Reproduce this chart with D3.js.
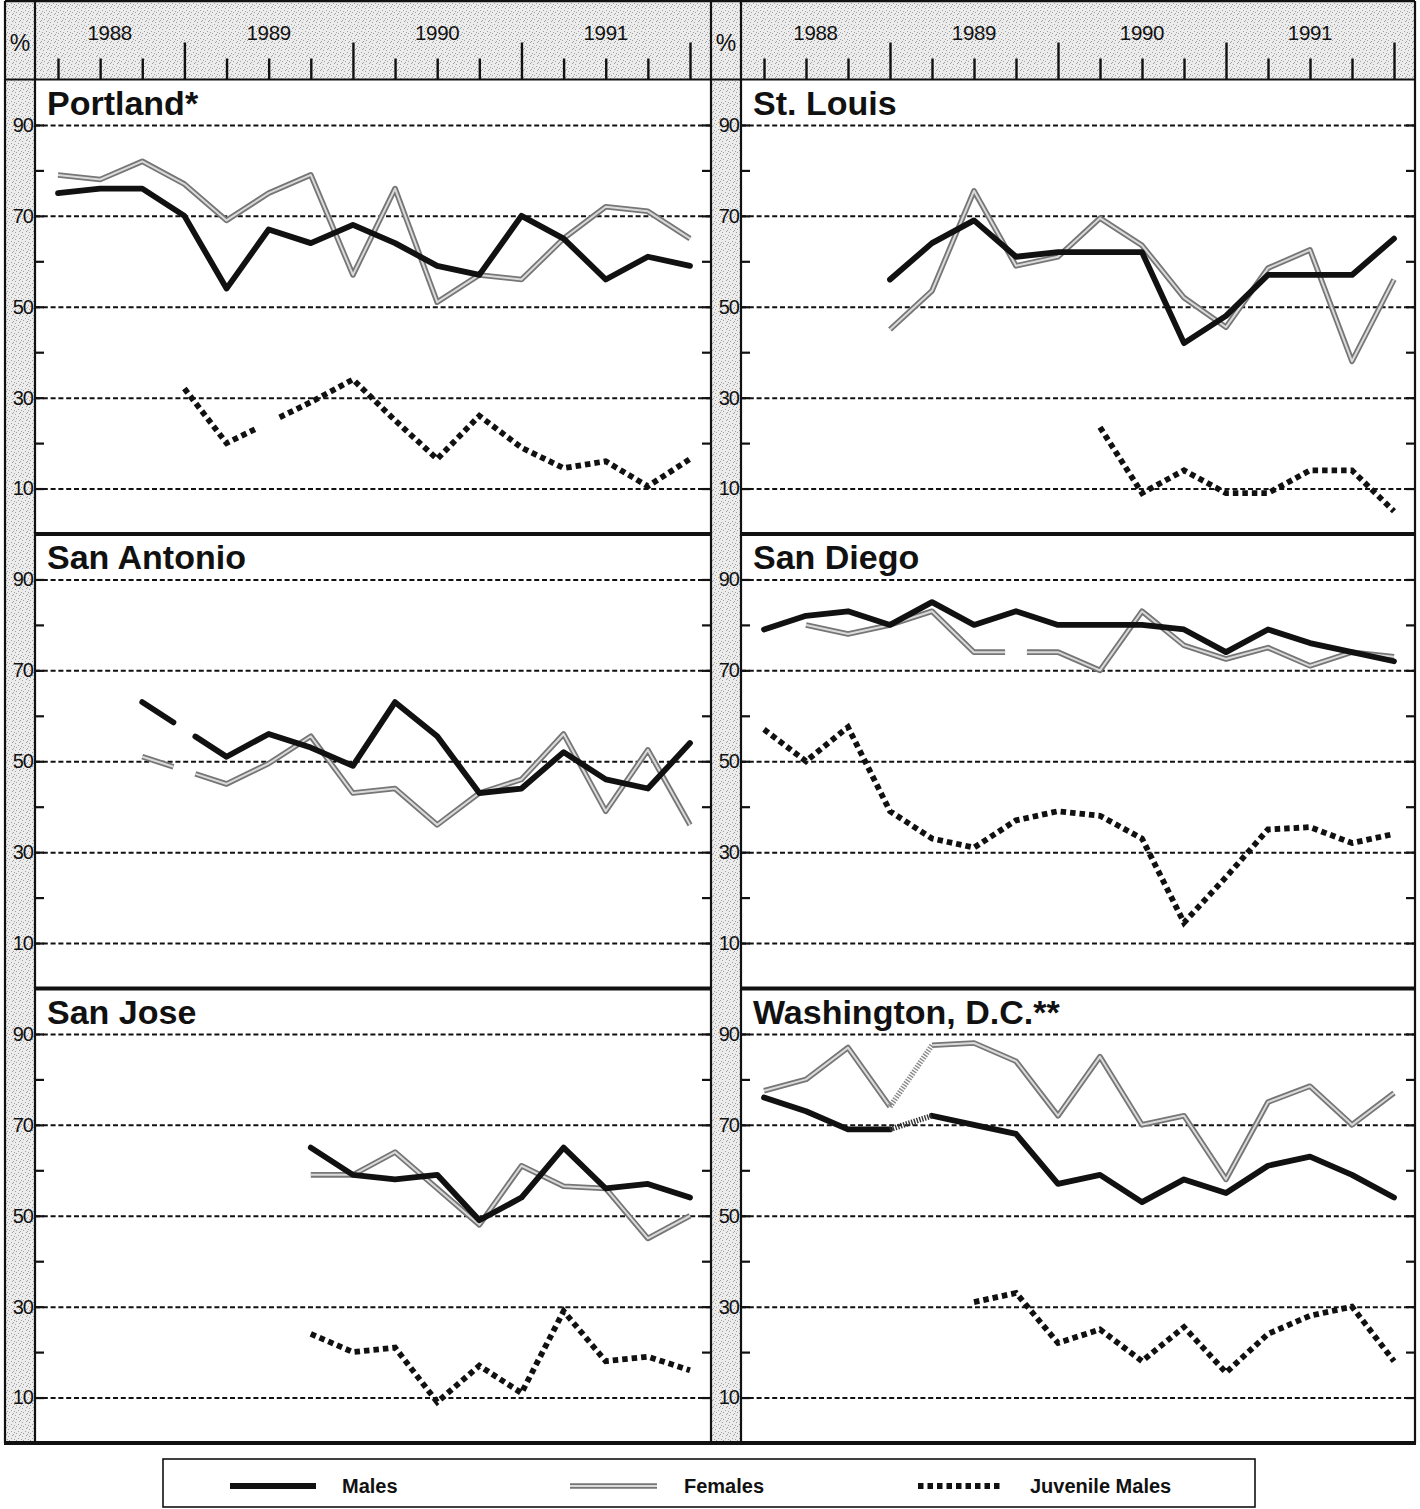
<!DOCTYPE html>
<html>
<head>
<meta charset="utf-8">
<title>Drug use by arrestees, 1988–1991</title>
<script src="https://cdn.jsdelivr.net/npm/d3@7"></script>
<style>
  body { margin: 0; background: #fff; }
  svg { display: block; font-family: "Liberation Sans", Arial, Helvetica, sans-serif; }
</style>
</head>
<body>
<svg id="chart" width="1420" height="1509"></svg>
<script>
// ---- Data: percent testing positive, by quarter (1988 Q1 … 1991 Q4) ----
const quarters = ["1988 Q1","1988 Q2","1988 Q3","1988 Q4",
                  "1989 Q1","1989 Q2","1989 Q3","1989 Q4",
                  "1990 Q1","1990 Q2","1990 Q3","1990 Q4",
                  "1991 Q1","1991 Q2","1991 Q3","1991 Q4"];
const years = ["1988", "1989", "1990", "1991"];
const labeledTicks = [10, 30, 50, 70, 90];
const allTicks = [10, 20, 30, 40, 50, 60, 70, 80, 90];

const portlandMales     = [75, 76, 76, 70, 54, 67, 64, 68, 64, 59, 57, 70, 65, 56, 61, 59];
const portlandFemales   = [79, 78, 82, 77, 69, 75, 79, 57, 76, 51, 57, 56, 65, 72, 71, 65];
const portlandJuvenile  = [null, null, null, 32, 20, null, 29, 34, 25, 16.5, 26, 19, 14.5, 16, 10.5, 16.5];

const stLouisMales      = [null, null, null, 56, 64, 69, 61, 62, 62, 62, 42, 48, 57, 57, 57, 65];
const stLouisFemales    = [null, null, null, 45, 53.5, 75.5, 59, 61, 69.5, 63.5, 52, 45.5, 58.5, 62.5, 38, 56];
const stLouisJuvenile   = [null, null, null, null, null, null, null, null, 23.5, 9, 14, 9, 9, 14, 14, 5];

const sanAntonioMales   = [null, null, 63, null, 51, 56, 53, 49, 63, 55.5, 43, 44, 52, 46, 44, 54];
const sanAntonioFemales = [null, null, 51, null, 45, 49.5, 55.5, 43, 44, 36, 43, 46, 56, 39, 52.5, 36];

const sanDiegoMales     = [79, 82, 83, 80, 85, 80, 83, 80, 80, 80, 79, 74, 79, 76, 74, 72];
const sanDiegoFemales   = [null, 80, 78, 80, 83, 74, null, 74, 70, 83, 75.5, 72.5, 75, 71, 74, 73];
const sanDiegoJuvenile  = [57, 50, 57.5, 39, 33, 31, 37, 39, 38, 33, 14.5, 24.5, 35, 35.5, 32, 34];

const sanJoseMales      = [null, null, null, null, null, null, 65, 59, 58, 59, 49, 54, 65, 56, 57, 54];
const sanJoseFemales    = [null, null, null, null, null, null, 59, 59, 64, 56, 48, 61, 56.5, 56, 45, 50];
const sanJoseJuvenile   = [null, null, null, null, null, null, 24, 20, 21, 9, 17, 11, 29, 18, 19, 16];

const washingtonMales    = [76, 73, 69, 69, 72, 70, 68, 57, 59, 53, 58, 55, 61, 63, 59, 54];
const washingtonFemales  = [77.5, 80, 87, 74, 87.5, 88, 84, 72, 85, 70, 72, 58, 75, 78.5, 70, 77];
const washingtonJuvenile = [null, null, null, null, null, 31, 33, 22, 25, 18, 25.5, 15.5, 24, 28, 30, 18];
// quarter-to-quarter links shown as hatched (break in the series)
const washingtonHatched = [3];

const cityNames = ["Portland*", "St. Louis", "San Antonio", "San Diego", "San Jose", "Washington, D.C.**"];
const seriesNames = ["Males", "Females", "Juvenile Males"];

const panels = [
  { name: cityNames[0], males: portlandMales,   females: portlandFemales,   juvenile: portlandJuvenile,   hatched: [] },
  { name: cityNames[1], males: stLouisMales,    females: stLouisFemales,    juvenile: stLouisJuvenile,    hatched: [] },
  { name: cityNames[2], males: sanAntonioMales, females: sanAntonioFemales, juvenile: null,               hatched: [] },
  { name: cityNames[3], males: sanDiegoMales,   females: sanDiegoFemales,   juvenile: sanDiegoJuvenile,   hatched: [] },
  { name: cityNames[4], males: sanJoseMales,    females: sanJoseFemales,    juvenile: sanJoseJuvenile,    hatched: [] },
  { name: cityNames[5], males: washingtonMales, females: washingtonFemales, juvenile: washingtonJuvenile, hatched: washingtonHatched }
];

// ---- Layout ----
const svg = d3.select("#chart");
const frameL = 5, frameR = 1415, frameT = 1, frameB = 1443;
const headerB = 79.5;
const cols = [
  { strip: frameL, plotL: 35, plotR: 711 },
  { strip: 711,    plotL: 741, plotR: frameR }
];
const rowTop0 = 79.5, rowH = 454.5;
const INK = "#111";

// Stippled tone used behind the header and the value strips
const defs = svg.append("defs");
const pat = defs.append("pattern").attr("id", "stipple")
  .attr("width", 7).attr("height", 7).attr("patternUnits", "userSpaceOnUse");
pat.append("rect").attr("width", 7).attr("height", 7).attr("fill", "#ececec");
[[1, 1], [4, 3], [2, 5], [6, 6], [5, 0], [0, 4]].forEach(([a, b]) =>
  pat.append("rect").attr("x", a).attr("y", b).attr("width", 1).attr("height", 1).attr("fill", "#a0a0a0"));

// header band and left strips
svg.append("rect").attr("x", frameL).attr("y", frameT).attr("width", frameR - frameL)
  .attr("height", headerB - frameT).attr("fill", "url(#stipple)");
cols.forEach(c => {
  svg.append("rect").attr("x", c.strip).attr("y", frameT).attr("width", c.plotL - c.strip)
    .attr("height", frameB - frameT).attr("fill", "url(#stipple)");
});
// percent sign above each value strip
cols.forEach(c => {
  svg.append("text").attr("x", (c.strip + c.plotL) / 2).attr("y", 51)
    .attr("text-anchor", "middle").attr("font-size", 23).attr("fill", INK).text("%");
});

// ---- Header: quarter ticks and year labels ----
cols.forEach(c => {
  const x = d3.scaleLinear().domain([0, 15]).range([c.plotL + 23, c.plotR - 21]);
  const g = svg.append("g").attr("transform", `translate(0,${headerB})`);
  g.call(d3.axisTop(x).tickValues(d3.range(quarters.length)).tickSize(21).tickFormat(""));
  g.select(".domain").remove();
  g.selectAll(".tick line")
    .attr("stroke", INK).attr("stroke-width", 2.4)
    .attr("y2", d => (d % 4 === 3 ? -37 : -21));
  years.forEach((yr, k) => {
    const start = Math.max(c.plotL, x(4 * k - 1));
    const end = x(4 * k + 3);
    svg.append("text").attr("x", (start + end) / 2).attr("y", 40)
      .attr("text-anchor", "middle").attr("font-size", 20.5).attr("letter-spacing", -0.3)
      .attr("fill", INK).text(yr);
  });
});

// ---- Series path helpers ----
const GAP = 0.26; // half-width of the break drawn at a missing quarter, in quarters
function buildRuns(vals, hatched) {
  const idx = vals.map((v, i) => (v == null ? -1 : i)).filter(i => i >= 0);
  const runs = [], hatch = [];
  let cur = [];
  idx.forEach((i, j) => {
    if (j > 0) {
      const p = idx[j - 1];
      const lerp = q => [q, vals[p] + (vals[i] - vals[p]) * (q - p) / (i - p)];
      if (i - p > 1) {
        cur.push(lerp(p + 1 - GAP));
        runs.push(cur);
        cur = [lerp(i - 1 + GAP)];
      } else if (hatched.includes(p)) {
        runs.push(cur);
        hatch.push([[p, vals[p]], [i, vals[i]]]);
        cur = [];
      }
    }
    cur.push([i, vals[i]]);
  });
  if (cur.length) runs.push(cur);
  return { runs: runs.filter(r => r.length > 1), hatch };
}

const styles = {
  males:    [{ stroke: INK, width: 5.8, dash: null, cap: "round" }],
  females:  [{ stroke: "#767676", width: 5.6, dash: null, cap: "butt" },
             { stroke: "#dadada", width: 2.0, dash: null, cap: "butt" }],
  juvenile: [{ stroke: INK, width: 5.8, dash: "5.5,4", cap: "butt" }]
};

// ---- Panels ----
panels.forEach((p, k) => {
  const c = cols[k % 2];
  const r = Math.floor(k / 2);
  const top = rowTop0 + r * rowH, bottom = top + rowH;
  const x = d3.scaleLinear().domain([0, 15]).range([c.plotL + 23, c.plotR - 21]);
  const y = d3.scaleLinear().domain([0, 100]).range([bottom, top]);
  const g = svg.append("g");

  // dashed gridlines at labelled values
  const grid = g.append("g").attr("transform", `translate(${c.plotL},0)`)
    .call(d3.axisLeft(y).tickValues(labeledTicks).tickSize(-(c.plotR - c.plotL)).tickFormat(""));
  grid.select(".domain").remove();
  grid.selectAll(".tick line").attr("stroke", INK).attr("stroke-width", 2)
    .attr("stroke-dasharray", "5,2.8");

  // solid ticks and value labels on the left
  const la = g.append("g").attr("transform", `translate(${c.plotL},0)`)
    .call(d3.axisLeft(y).tickValues(allTicks).tickSize(-9).tickPadding(2)
      .tickFormat(v => (labeledTicks.includes(v) ? v : "")));
  la.select(".domain").remove();
  la.selectAll(".tick line").attr("stroke", INK).attr("stroke-width", 2.2);
  la.selectAll(".tick text").attr("font-size", 20).attr("fill", INK)
    .attr("font-family", "'Liberation Sans', Arial, sans-serif").attr("letter-spacing", -1);

  // solid ticks on the right
  const ra = g.append("g").attr("transform", `translate(${c.plotR},0)`)
    .call(d3.axisRight(y).tickValues(allTicks).tickSize(-9).tickFormat(""));
  ra.select(".domain").remove();
  ra.selectAll(".tick line").attr("stroke", INK).attr("stroke-width", 2.2);

  // city title
  g.append("text").attr("x", c.plotL + 12).attr("y", top + 35)
    .attr("font-size", 34).attr("font-weight", "bold").attr("fill", INK).text(p.name);

  const line = d3.line().x(d => x(d[0])).y(d => y(d[1]));
  const draw = (vals, key) => {
    if (!vals) return;
    const { runs, hatch } = buildRuns(vals, p.hatched);
    styles[key].forEach(s => {
      runs.forEach(run => {
        g.append("path").attr("d", line(run)).attr("fill", "none")
          .attr("stroke", s.stroke).attr("stroke-width", s.width)
          .attr("stroke-linejoin", key === "juvenile" ? "miter" : "round")
          .attr("stroke-linecap", s.cap)
          .attr("stroke-dasharray", s.dash);
      });
    });
    hatch.forEach(seg => {
      g.append("path").attr("d", line(seg)).attr("fill", "none")
        .attr("stroke", key === "males" ? "#333" : "#8a8a8a").attr("stroke-width", 5.6)
        .attr("stroke-dasharray", "1.4,1.4");
    });
  };
  draw(p.females, "females");
  draw(p.males, "males");
  draw(p.juvenile, "juvenile");
});

// ---- Frame rules ----
const rule = (x1, y1, x2, y2, w) => svg.append("line")
  .attr("x1", x1).attr("y1", y1).attr("x2", x2).attr("y2", y2)
  .attr("stroke", INK).attr("stroke-width", w);
rule(frameL, frameT, frameR, frameT, 2.5);
rule(frameL, headerB, frameR, headerB, 2.2);
rule(frameL, frameT, frameL, frameB, 2.2);
rule(frameR, frameT, frameR, frameB, 2.2);
cols.forEach(c => rule(c.plotL, frameT, c.plotL, frameB, 2.2));
rule(cols[0].plotR, frameT, cols[0].plotR, frameB, 2.2);
[1, 2].forEach(r => cols.forEach(c => rule(c.plotL, rowTop0 + r * rowH, c.plotR, rowTop0 + r * rowH, 3.8)));
rule(frameL - 1, frameB, frameR + 1, frameB, 3.8);

// ---- Legend ----
const lg = svg.append("g");
lg.append("rect").attr("x", 163).attr("y", 1459).attr("width", 1092).attr("height", 48)
  .attr("fill", "#fff").attr("stroke", INK).attr("stroke-width", 1.6);
const legendItems = [
  { key: "males", x0: 230, x1: 316, tx: 342 },
  { key: "females", x0: 570, x1: 657, tx: 684 },
  { key: "juvenile", x0: 918, x1: 1000, tx: 1030 }
];
legendItems.forEach((it, i) => {
  styles[it.key].forEach(s => {
    lg.append("line").attr("x1", it.x0).attr("x2", it.x1).attr("y1", 1486).attr("y2", 1486)
      .attr("stroke", s.stroke).attr("stroke-width", s.width).attr("stroke-dasharray", s.dash);
  });
  lg.append("text").attr("x", it.tx).attr("y", 1493).attr("font-size", 20)
    .attr("font-weight", "bold").attr("fill", INK).text(seriesNames[i]);
});
</script>
</body>
</html>
